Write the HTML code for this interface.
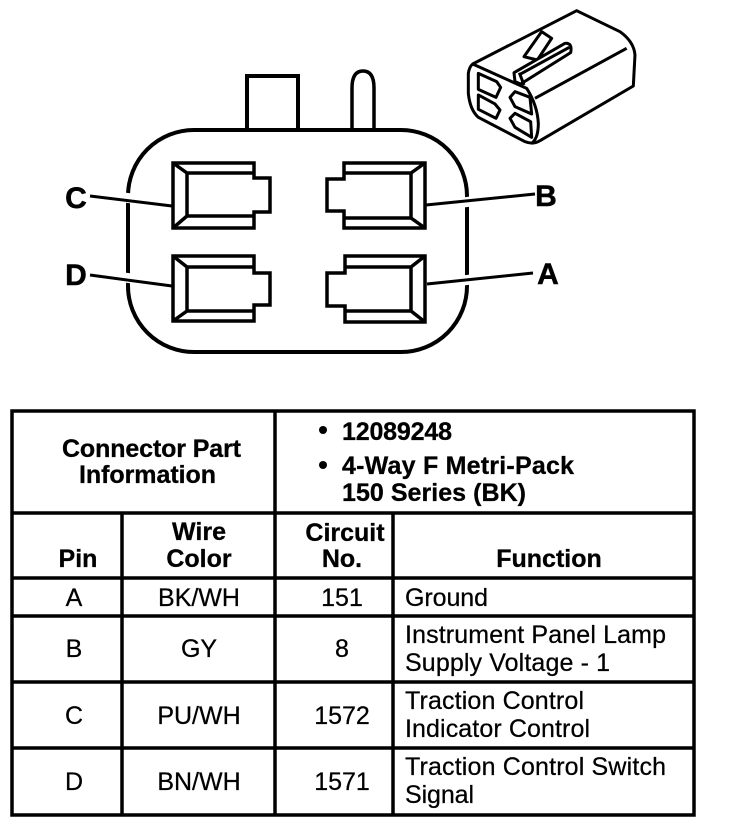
<!DOCTYPE html>
<html><head><meta charset="utf-8"><style>
html,body{margin:0;padding:0;background:#fff}
svg{display:block}
text{font-family:"Liberation Sans",sans-serif;fill:#000}
.b{font-weight:bold;font-size:25px;stroke:#000;stroke-width:.3}
.r{font-size:25px;stroke:#000;stroke-width:.25}
.l{font-weight:bold;font-size:30px;stroke:#000;stroke-width:.5}
.m{text-anchor:middle}
</style></head><body>
<svg width="736" height="826" viewBox="0 0 736 826" xmlns="http://www.w3.org/2000/svg">
<g fill="none" stroke="#000" stroke-width="4">
<path d="M247 130V76H298V130" />
<path d="M352 130V88Q352 71 363 71Q374 71 374 88V130" stroke-width="3.5"/>
<rect x="128" y="130" width="339" height="222" rx="66" ry="66"/>
</g>
<g stroke="#fff" stroke-width="10">
<line x1="120" y1="197" x2="136" y2="199"/>
<line x1="120" y1="277" x2="136" y2="279"/>
<line x1="459" y1="203" x2="475" y2="201"/>
<line x1="459" y1="281" x2="475" y2="279"/>
</g>
<g stroke="#000" stroke-width="3">
<line x1="90" y1="196" x2="172" y2="206"/>
<line x1="90" y1="275" x2="172" y2="286"/>
<line x1="426" y1="205" x2="535" y2="194"/>
<line x1="427" y1="284" x2="533" y2="273"/>
</g>
<g fill="none" stroke="#000" stroke-width="3.5" stroke-linejoin="miter">
<path d="M173 163H254V178H270V212H254V228H173Z"/>
<path d="M254 173H187V216H254M173 163L187 173M187 216L173 228"/>
<path d="M173 256H254V273H270V305H254V321H173Z"/>
<path d="M254 267H187V311H254M173 256L187 267M187 311L173 321"/>
<path d="M425 163H344V179H327V211H344V228H425Z"/>
<path d="M344 173H411V218H344M425 163L411 173M411 218L425 228"/>
<path d="M425 256H345V273H327V306H345V322H425Z"/>
<path d="M345 267H411V311H345M425 256L411 267M411 311L425 322"/>
</g>
<text class="l m" x="76" y="208">C</text>
<text class="l m" x="76" y="285">D</text>
<text class="l m" x="546" y="206">B</text>
<text class="l m" x="548" y="284">A</text>

<g transform="translate(450 10) scale(.3333)" fill="none" stroke="#000" stroke-width="9" stroke-linejoin="round">
<path d="M68 162L380 2L510 65Q552 95 555 135L550 228L270 392Q250 405 225 395L85 322Q60 300 55 250L55 190Q58 170 68 162Z"/>
<path d="M68 162L230 235Q262 285 265 340Q265 385 245 400"/>
<path d="M255 265L530 115"/>
<path d="M85 190L140 215L152 232L138 262L85 238Z"/>
<path d="M85 255L135 282L150 300L138 325L85 298Z"/>
<path d="M180 262L195 245L240 262L245 312L195 290Z"/>
<path d="M180 325L195 310L242 335L245 382L195 352Z"/>
<path d="M222 140L275 65L305 85L262 150Z" fill="#fff"/>
<path d="M192 188L345 100Q368 98 362 128L212 222L195 215Z" fill="#fff"/>
<path d="M208 188L222 225M212 192L358 112"/>
</g>

<g fill="none" stroke="#000" stroke-width="3.5">
<rect x="12" y="411" width="682" height="404"/>
<path d="M12 513H694M12 578H694M12 616H694M12 682H694M12 748H694"/>
<path d="M275 411V815M122 513V815M393 513V815"/>
</g>
<text class="b" x="62" y="457" textLength="179">Connector Part</text>
<text class="b" x="79" y="483" textLength="137">Information</text>
<circle cx="323" cy="430" r="4"/><circle cx="323" cy="465" r="4"/>
<text class="b" x="342" y="440" textLength="110">12089248</text>
<text class="b" x="342" y="474" textLength="232">4-Way F Metri-Pack</text>
<text class="b" x="342" y="501" textLength="184">150 Series (BK)</text>
<text class="b m" x="78" y="567">Pin</text>
<text class="b m" x="199" y="540">Wire</text>
<text class="b m" x="199" y="567">Color</text>
<text class="b m" x="345" y="541">Circuit</text>
<text class="b m" x="342" y="567">No.</text>
<text class="b m" x="549" y="567">Function</text>
<text class="r m" x="74" y="606">A</text><text class="r m" x="199" y="606">BK/WH</text><text class="r m" x="342" y="606">151</text>
<text class="r" x="405" y="606" textLength="83">Ground</text>
<text class="r m" x="74" y="657">B</text><text class="r m" x="199" y="657">GY</text><text class="r m" x="342" y="657">8</text>
<text class="r" x="405" y="643" textLength="261">Instrument Panel Lamp</text>
<text class="r" x="405" y="671" textLength="205">Supply Voltage - 1</text>
<text class="r m" x="74" y="724">C</text><text class="r m" x="199" y="724">PU/WH</text><text class="r m" x="342" y="724">1572</text>
<text class="r" x="405" y="709" textLength="179">Traction Control</text>
<text class="r" x="405" y="737" textLength="185">Indicator Control</text>
<text class="r m" x="74" y="790">D</text><text class="r m" x="199" y="790">BN/WH</text><text class="r m" x="342" y="790">1571</text>
<text class="r" x="405" y="775" textLength="261">Traction Control Switch</text>
<text class="r" x="405" y="803" textLength="69">Signal</text>
</svg>
</body></html>
